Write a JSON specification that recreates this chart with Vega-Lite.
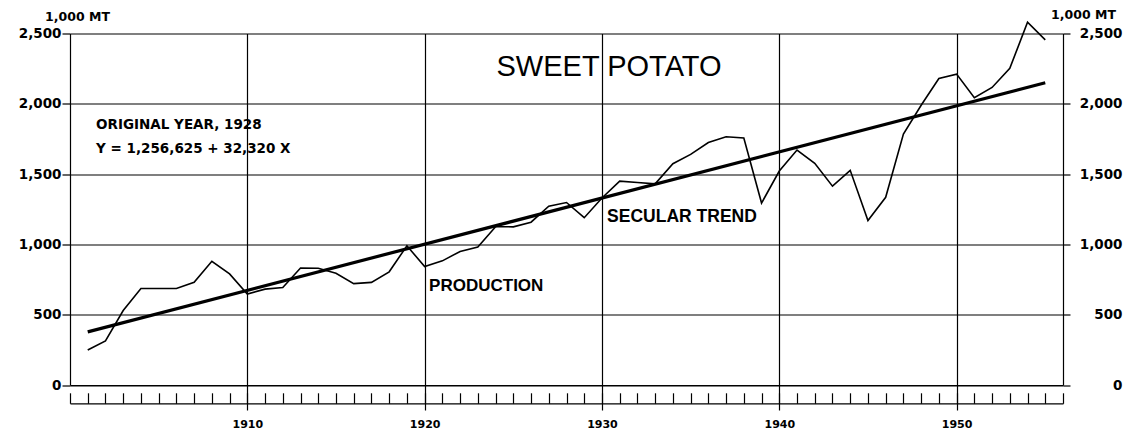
{
  "$schema": "https://vega.github.io/schema/vega-lite/v6.json",
  "width": 993,
  "height": 351.5,
  "autosize": {"type": "none"},
  "padding": {"left": 70, "top": 33.5, "right": 67, "bottom": 48},
  "background": "white",
  "config": {
    "view": {"stroke": null},
    "axis": {
      "domainColor": "black", "tickColor": "black", "gridColor": "black",
      "labelColor": "black", "titleColor": "black",
      "labelFont": "DejaVu Sans", "titleFont": "DejaVu Sans",
      "labelFontWeight": "bold", "titleFontWeight": "bold",
      "domainWidth": 1.2, "tickWidth": 1.2, "gridWidth": 1.2, "gridOpacity": 1
    }
  },
  "datasets": {
    "production": [
      {"year": 1901, "value": 249}, {"year": 1902, "value": 314}, {"year": 1903, "value": 530},
      {"year": 1904, "value": 686}, {"year": 1905, "value": 686}, {"year": 1906, "value": 686},
      {"year": 1907, "value": 730}, {"year": 1908, "value": 880}, {"year": 1909, "value": 790},
      {"year": 1910, "value": 647}, {"year": 1911, "value": 682}, {"year": 1912, "value": 693},
      {"year": 1913, "value": 832}, {"year": 1914, "value": 830}, {"year": 1915, "value": 795},
      {"year": 1916, "value": 721}, {"year": 1917, "value": 730}, {"year": 1918, "value": 805},
      {"year": 1919, "value": 990}, {"year": 1920, "value": 843}, {"year": 1921, "value": 883},
      {"year": 1922, "value": 950}, {"year": 1923, "value": 982}, {"year": 1924, "value": 1126},
      {"year": 1925, "value": 1125}, {"year": 1926, "value": 1158}, {"year": 1927, "value": 1272},
      {"year": 1928, "value": 1298}, {"year": 1929, "value": 1190}, {"year": 1930, "value": 1330},
      {"year": 1931, "value": 1450}, {"year": 1932, "value": 1440}, {"year": 1933, "value": 1431},
      {"year": 1934, "value": 1574}, {"year": 1935, "value": 1640}, {"year": 1936, "value": 1725},
      {"year": 1937, "value": 1766}, {"year": 1938, "value": 1757}, {"year": 1939, "value": 1294},
      {"year": 1940, "value": 1522}, {"year": 1941, "value": 1671}, {"year": 1942, "value": 1577},
      {"year": 1943, "value": 1414}, {"year": 1944, "value": 1527}, {"year": 1945, "value": 1170},
      {"year": 1946, "value": 1335}, {"year": 1947, "value": 1785}, {"year": 1948, "value": 1990},
      {"year": 1949, "value": 2180}, {"year": 1950, "value": 2211}, {"year": 1951, "value": 2044},
      {"year": 1952, "value": 2116}, {"year": 1953, "value": 2252}, {"year": 1954, "value": 2580},
      {"year": 1955, "value": 2455}
    ],
    "trend": [
      {"year": 1901, "value": 378},
      {"year": 1955, "value": 2150}
    ]
  },
  "layer": [
    {
      "data": {"name": "production"},
      "mark": {"type": "line", "color": "black", "strokeWidth": 1.6},
      "encoding": {
        "x": {
          "field": "year", "type": "quantitative",
          "scale": {"domain": [1900, 1956], "nice": false, "zero": false},
          "axis": {
            "orient": "bottom",
            "values": [1910, 1920, 1930, 1940, 1950],
            "grid": true, "tickSize": 25, "labelPadding": 8,
            "labelFontSize": 11, "format": "d", "title": null
          }
        },
        "y": {
          "field": "value", "type": "quantitative",
          "scale": {"domain": [0, 2500], "nice": false},
          "axis": {
            "orient": "left",
            "values": [0, 500, 1000, 1500, 2000, 2500],
            "grid": true, "tickSize": 8, "labelPadding": 1,
            "labelFontSize": 13.5, "format": ",d",
            "title": "1,000 MT", "titleAngle": 0, "titleX": 7, "titleY": -17,
            "titleAlign": "center", "titleBaseline": "middle", "titleFontSize": 12.5
          }
        }
      }
    },
    {
      "data": {"name": "trend"},
      "mark": {"type": "line", "color": "black", "strokeWidth": 3.2},
      "encoding": {
        "x": {
          "field": "year", "type": "quantitative",
          "scale": {"domain": [1900, 1956], "nice": false, "zero": false},
          "axis": {
            "orient": "bottom",
            "values": [1900, 1901, 1902, 1903, 1904, 1905, 1906, 1907, 1908, 1909, 1910, 1911, 1912, 1913, 1914, 1915, 1916, 1917, 1918, 1919, 1920, 1921, 1922, 1923, 1924, 1925, 1926, 1927, 1928, 1929, 1930, 1931, 1932, 1933, 1934, 1935, 1936, 1937, 1938, 1939, 1940, 1941, 1942, 1943, 1944, 1945, 1946, 1947, 1948, 1949, 1950, 1951, 1952, 1953, 1954, 1955, 1956],
            "offset": 18.3, "tickSize": -10.5, "labels": false, "grid": false, "title": null
          }
        },
        "y": {
          "field": "value", "type": "quantitative",
          "scale": {"domain": [0, 2500], "nice": false},
          "axis": {
            "orient": "right",
            "values": [0, 500, 1000, 1500, 2000, 2500],
            "grid": false, "tickSize": 7, "labelAlign": "right", "labelPadding": 52,
            "labelFontSize": 13.5, "format": ",d",
            "title": "1,000 MT", "titleAngle": 0, "titleX": 20, "titleY": -19.5,
            "titleAlign": "center", "titleBaseline": "middle", "titleFontSize": 12.5
          }
        }
      }
    },
    {
      "data": {"values": [{}]},
      "mark": {"type": "text", "text": "SWEET POTATO", "font": "Liberation Sans", "fontSize": 29, "align": "center", "baseline": "middle", "color": "black"},
      "encoding": {
        "x": {"datum": 1930.4, "type": "quantitative", "axis": null},
        "y": {"datum": 2262, "type": "quantitative", "axis": null}
      }
    },
    {
      "data": {"values": [{}]},
      "mark": {"type": "text", "text": "ORIGINAL YEAR, 1928", "font": "DejaVu Sans", "fontWeight": "bold", "fontSize": 13.5, "align": "left", "baseline": "middle", "color": "black"},
      "encoding": {
        "x": {"datum": 1901.47, "type": "quantitative", "axis": null},
        "y": {"datum": 1849, "type": "quantitative", "axis": null}
      }
    },
    {
      "data": {"values": [{}]},
      "mark": {"type": "text", "text": "Y = 1,256,625 + 32,320 X", "font": "DejaVu Sans", "fontWeight": "bold", "fontSize": 13.5, "align": "left", "baseline": "middle", "color": "black"},
      "encoding": {
        "x": {"datum": 1901.47, "type": "quantitative", "axis": null},
        "y": {"datum": 1679, "type": "quantitative", "axis": null}
      }
    },
    {
      "data": {"values": [{}]},
      "mark": {"type": "text", "text": "PRODUCTION", "font": "Liberation Sans", "fontWeight": "bold", "fontSize": 17, "align": "left", "baseline": "middle", "color": "black"},
      "encoding": {
        "x": {"datum": 1920.25, "type": "quantitative", "axis": null},
        "y": {"datum": 704, "type": "quantitative", "axis": null}
      }
    },
    {
      "data": {"values": [{}]},
      "mark": {"type": "text", "text": "SECULAR TREND", "font": "Liberation Sans", "fontWeight": "bold", "fontSize": 17.5, "align": "left", "baseline": "middle", "color": "black"},
      "encoding": {
        "x": {"datum": 1930.29, "type": "quantitative", "axis": null},
        "y": {"datum": 1195, "type": "quantitative", "axis": null}
      }
    }
  ],
  "resolve": {"axis": {"x": "independent", "y": "independent"}}
}
